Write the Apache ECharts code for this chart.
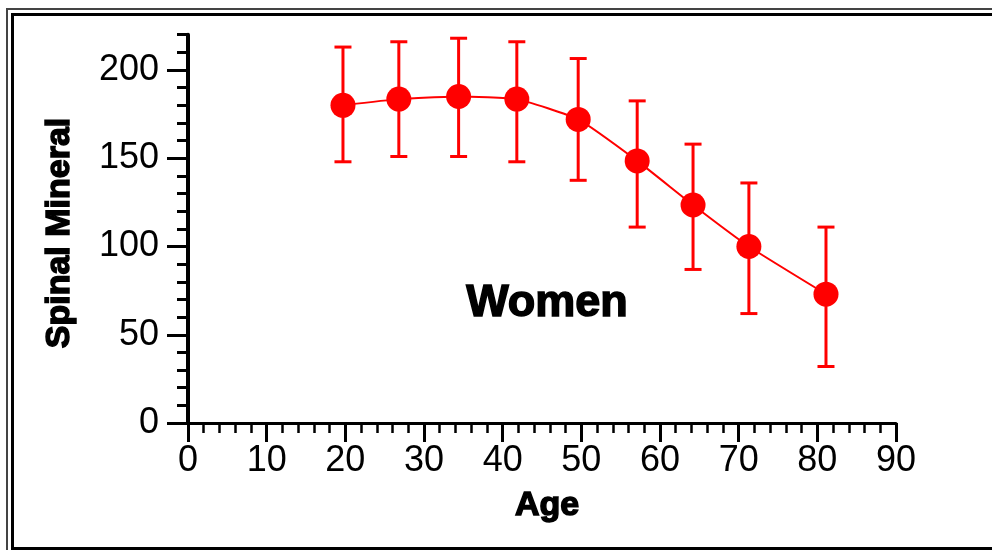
<!DOCTYPE html>
<html>
<head>
<meta charset="utf-8">
<script src="https://cdn.jsdelivr.net/npm/echarts@6/dist/echarts.min.js"></script>
<style>
html,body{margin:0;padding:0;background:#fff;}
#chart{width:992px;height:550px;}
</style>
</head>
<body>
<div id="chart"></div>
<script>
const ages   = [19.7, 26.8, 34.4, 41.8, 49.6, 57.1, 64.2, 71.3, 81.1];
const means  = [180, 183.5, 185, 183.5, 172, 148.5, 123.5, 100, 73];
const upper  = [213, 216, 218, 216, 206.5, 182.5, 158, 136, 111];
const lower  = [148, 151, 151, 148, 137.5, 111, 87, 62, 32];
const xTicks = [0, 10, 20, 30, 40, 50, 60, 70, 80, 90];
const yTicks = [0, 50, 100, 150, 200];
const titleText = 'Women';
const xName = 'Age';
const yName = 'Spinal Mineral';

const RED = '#ff0000';
const labelFont = 'Liberation Sans';

const lineData = ages.map((a, i) => [a, means[i]]);
const errData = ages.map((a, i) => [a, lower[i], upper[i]]);

const chart = echarts.init(document.getElementById('chart'), null, {renderer: 'canvas'});
chart.setOption({
  animation: false,
  backgroundColor: '#fff',
  grid: [
    {left: 188, right: 96, top: 34.7, bottom: 127},
    {left: 188, right: 96, top: 70, bottom: 127}
  ],
  xAxis: [
    {
      gridIndex: 0, type: 'value', min: xTicks[0], max: xTicks[xTicks.length - 1], interval: 10,
      axisLine: {show: true, onZero: false, lineStyle: {color: '#000', width: 3}},
      axisTick: {show: true, inside: false, length: 19, lineStyle: {color: '#000', width: 3}},
      minorTick: {show: true, splitNumber: 5, length: 10, lineStyle: {color: '#000', width: 2.5}},
      axisLabel: {show: true, margin: 20, color: '#000', fontFamily: labelFont, fontSize: 36,
        formatter: v => xTicks.includes(v) ? String(v) : ''},
      splitLine: {show: false}
    },
    {
      gridIndex: 1, type: 'value', min: 0, max: 90, show: false
    }
  ],
  yAxis: [
    {
      gridIndex: 0, type: 'value', min: 0, max: 220, interval: 10,
      axisLine: {show: true, onZero: false, lineStyle: {color: '#000', width: 4}},
      axisTick: {show: true, inside: false, length: 11, lineStyle: {color: '#000', width: 3}},
      axisLabel: {show: false},
      splitLine: {show: false}
    },
    {
      gridIndex: 1, type: 'value', min: 0, max: yTicks[yTicks.length - 1], interval: 50,
      axisLine: {show: false},
      axisTick: {show: true, inside: false, length: 21, lineStyle: {color: '#000', width: 3}},
      axisLabel: {show: true, margin: 29, color: '#000', fontFamily: labelFont, fontSize: 36,
        padding: [0, 0, 10, 0],
        formatter: v => yTicks.includes(v) ? String(v) : ''},
      splitLine: {show: false}
    }
  ],
  series: [
    {
      type: 'custom',
      xAxisIndex: 0, yAxisIndex: 0,
      data: errData,
      encode: {x: 0, y: [1, 2]},
      z: 2,
      renderItem: function (params, api) {
        const x = api.value(0);
        const lo = api.coord([x, api.value(1)]);
        const hi = api.coord([x, api.value(2)]);
        const hw = 8.5;
        const st = {stroke: RED, lineWidth: 3};
        return {
          type: 'group',
          children: [
            {type: 'line', shape: {x1: lo[0], y1: lo[1], x2: hi[0], y2: hi[1]}, style: st},
            {type: 'line', shape: {x1: lo[0] - hw, y1: lo[1], x2: lo[0] + hw, y2: lo[1]}, style: st},
            {type: 'line', shape: {x1: hi[0] - hw, y1: hi[1], x2: hi[0] + hw, y2: hi[1]}, style: st}
          ]
        };
      }
    },
    {
      type: 'line',
      xAxisIndex: 0, yAxisIndex: 0,
      data: lineData,
      smooth: 0.15,
      symbol: 'circle',
      symbolSize: 25,
      z: 3,
      lineStyle: {color: RED, width: 2},
      itemStyle: {color: RED, borderWidth: 0}
    }
  ],
  graphic: [
    {type: 'rect', silent: true, z: 10,
      shape: {x: 7, y: 9, width: 1000, height: 560},
      style: {fill: 'none', stroke: '#444', lineWidth: 2}},
    {type: 'rect', silent: true, z: 10,
      shape: {x: 12.5, y: 14.5, width: 1000, height: 534},
      style: {fill: 'none', stroke: '#000', lineWidth: 3}},
    {type: 'text', silent: true, z: 10, x: 547, y: 304,
      style: {text: titleText, font: 'bold 45px "Liberation Sans"', fill: '#000',
        stroke: '#000', lineWidth: 1.5, align: 'center', verticalAlign: 'middle'}},
    {type: 'text', silent: true, z: 10, x: 547, y: 506,
      style: {text: xName, font: 'bold 34px "Liberation Sans"', fill: '#000',
        stroke: '#000', lineWidth: 1.5, align: 'center', verticalAlign: 'middle'}},
    {type: 'text', silent: true, z: 10, x: 60, y: 233, rotation: Math.PI / 2,
      style: {text: yName, font: 'bold 34px "Liberation Sans"', fill: '#000',
        stroke: '#000', lineWidth: 1.5, align: 'center', verticalAlign: 'middle'}}
  ]
});
</script>
</body>
</html>
